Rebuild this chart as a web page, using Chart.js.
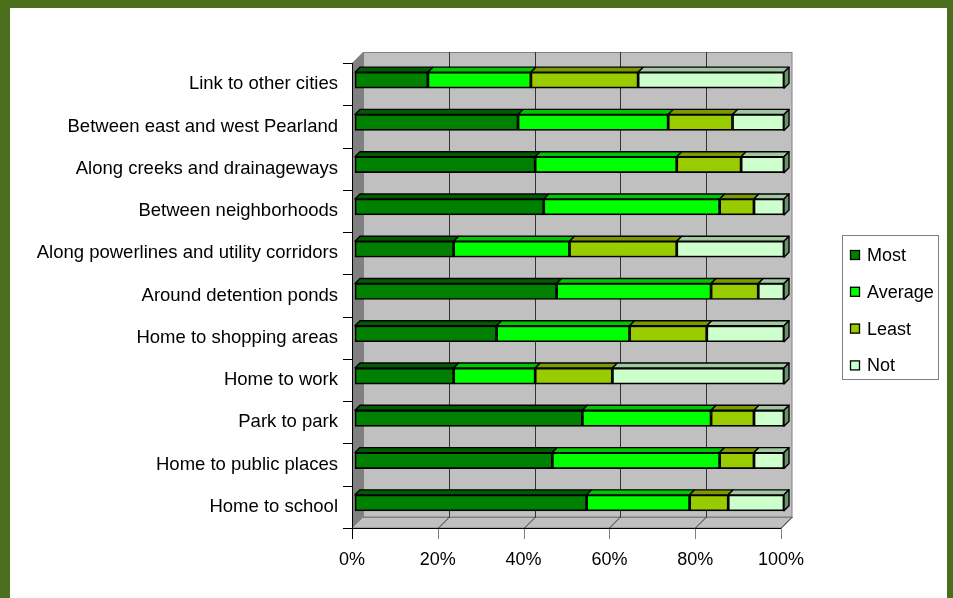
<!DOCTYPE html>
<html>
<head>
<meta charset="utf-8">
<script src="https://cdn.jsdelivr.net/npm/chart.js@4.4.1/dist/chart.umd.min.js"></script>
<style>
  html, body { margin: 0; padding: 0; background: #fff; overflow: hidden; }
  canvas { display: block; }
</style>
</head>
<body>
<canvas id="chart" width="953" height="598"></canvas>
<script>
// Trail connection preferences (percent of responses)
const categories = [
  'Link to other cities',
  'Between east and west Pearland',
  'Along creeks and drainageways',
  'Between neighborhoods',
  'Along powerlines and utility corridors',
  'Around detention ponds',
  'Home to shopping areas',
  'Home to work',
  'Park to park',
  'Home to public places',
  'Home to school'
];
const most    = [17, 38, 42, 44, 23, 47, 33, 23, 53, 46, 54];
const average = [24, 35, 33, 41, 27, 36, 31, 19, 30, 39, 24];
const least   = [25, 15, 15,  8, 25, 11, 18, 18, 10,  8,  9];
const notPref = [34, 12, 10,  7, 25,  6, 18, 40,  7,  7, 13];
const seriesNames = ['Most', 'Average', 'Least', 'Not'];
const tickValues = [0, 20, 40, 60, 80, 100];

const FILL = ['#008000', '#00ff00', '#99cc00', '#ccffcc'];
const TOP  = ['#005c00', '#00c800', '#7a9a00', '#a2c8a2'];
const SIDE = ['#004000', '#009000', '#5a7200', '#6e8f6e'];

const WALL_DEPTH = 11;        // depth of the 3D walls
const BAR_SHIFT = { x: 3, y: -4 };
const BAR_DEPTH = 5;

Chart.defaults.font.family = '"Liberation Sans", Arial, sans-serif';
Chart.defaults.color = '#000';

function poly(ctx, pts) {
  ctx.beginPath();
  ctx.moveTo(pts[0][0], pts[0][1]);
  for (let i = 1; i < pts.length; i++) ctx.lineTo(pts[i][0], pts[i][1]);
  ctx.closePath();
}

const frame3d = {
  id: 'frame3d',
  beforeDraw(chart) {
    const { ctx, width, height } = chart;
    ctx.save();
    ctx.fillStyle = '#4b6f1d';
    ctx.fillRect(0, 0, width, height);
    ctx.fillStyle = '#ffffff';
    ctx.fillRect(10, 8, 937, height - 8);
    ctx.restore();
  },
  beforeDatasetsDraw(chart) {
    const { ctx, chartArea: a, scales } = chart;
    const xs = scales.x, ys = scales.y;
    const d = WALL_DEPTH;
    ctx.save();
    // back wall
    ctx.fillStyle = '#c0c0c0';
    ctx.fillRect(a.left + d, a.top - d, a.right - a.left, a.bottom - a.top);
    // left wall
    ctx.fillStyle = '#808080';
    poly(ctx, [[a.left, a.top], [a.left + d, a.top - d], [a.left + d, a.bottom - d], [a.left, a.bottom]]);
    ctx.fill();
    // floor
    ctx.fillStyle = '#c0c0c0';
    poly(ctx, [[a.left, a.bottom], [a.left + d, a.bottom - d], [a.right + d, a.bottom - d], [a.right, a.bottom]]);
    ctx.fill();
    ctx.strokeStyle = '#808080';
    ctx.lineWidth = 1;
    ctx.stroke();
    // wall outline
    ctx.strokeRect(a.left + d + 0.5, a.top - d + 0.5, a.right - a.left - 0.5, a.bottom - a.top);
    // gridlines on the back wall and the floor
    ctx.strokeStyle = '#333333';
    tickValues.forEach(v => {
      const px = Math.round(xs.getPixelForValue(v)) + 0.5;
      if (v > 0 && v < 100) {
        ctx.beginPath();
        ctx.moveTo(px + d, a.top - d);
        ctx.lineTo(px + d, a.bottom - d);
        ctx.stroke();
      }
      if (v > 0) {
        ctx.beginPath();
        ctx.moveTo(px, a.bottom);
        ctx.lineTo(px + d, a.bottom - d);
        ctx.stroke();
      }
    });
    // x tick marks
    ctx.strokeStyle = '#808080';
    tickValues.forEach(v => {
      if (v === 0) return;
      const px = Math.round(xs.getPixelForValue(v)) + 0.5;
      ctx.beginPath();
      ctx.moveTo(px, a.bottom);
      ctx.lineTo(px, a.bottom + 11);
      ctx.stroke();
    });
    // axes
    ctx.strokeStyle = '#000';
    const lx = Math.round(a.left) + 0.5;
    const by = Math.round(a.bottom) + 0.5;
    ctx.beginPath();
    ctx.moveTo(lx, a.top);
    ctx.lineTo(lx, a.bottom + 11);
    ctx.moveTo(a.left - 9, by);
    ctx.lineTo(a.right, by);
    ctx.stroke();
    // category tick marks
    const n = categories.length;
    const band = (a.bottom - a.top) / n;
    for (let i = 0; i < n; i++) {
      const ty = Math.round(ys.getPixelForValue(i) - band / 2) + 0.5;
      ctx.beginPath();
      ctx.moveTo(a.left - 9, ty);
      ctx.lineTo(a.left, ty);
      ctx.stroke();
    }
    ctx.restore();
    // bars sit slightly behind the front plane
    ctx.save();
    ctx.translate(BAR_SHIFT.x, BAR_SHIFT.y);
  },
  afterDatasetsDraw(chart) {
    const ctx = chart.ctx;
    const bd = BAR_DEPTH;
    const nSets = chart.data.datasets.length;
    ctx.lineWidth = 1.4;
    ctx.strokeStyle = '#000';
    ctx.lineJoin = 'round';
    for (let di = 0; di < nSets; di++) {
      const meta = chart.getDatasetMeta(di);
      meta.data.forEach(el => {
        const p = el.getProps(['x', 'y', 'base', 'height'], true);
        const l = Math.min(p.x, p.base), r = Math.max(p.x, p.base);
        const t = p.y - p.height / 2;
        poly(ctx, [[l, t], [l + bd, t - bd], [r + bd, t - bd], [r, t]]);
        ctx.fillStyle = TOP[di];
        ctx.fill();
        ctx.stroke();
        if (di === nSets - 1) {
          const b = p.y + p.height / 2;
          poly(ctx, [[r, t], [r + bd, t - bd], [r + bd, b - bd], [r, b]]);
          ctx.fillStyle = SIDE[di];
          ctx.fill();
          ctx.stroke();
        }
      });
    }
    ctx.restore();
  },
  afterDraw(chart) {
    const ctx = chart.ctx;
    ctx.save();
    // legend box
    ctx.fillStyle = '#fff';
    ctx.fillRect(842, 235, 97, 145);
    ctx.strokeStyle = '#808080';
    ctx.lineWidth = 1;
    ctx.strokeRect(842.5, 235.5, 96, 144);
    ctx.font = '18px "Liberation Sans", Arial, sans-serif';
    ctx.textBaseline = 'middle';
    ctx.textAlign = 'left';
    chart.data.datasets.forEach((ds, i) => {
      const cy = 255 + i * 36.8;
      ctx.fillStyle = ds.backgroundColor;
      ctx.fillRect(850, cy - 5, 10, 10);
      ctx.strokeStyle = '#000';
      ctx.lineWidth = 1.3;
      ctx.strokeRect(850.5, cy - 4.5, 9, 9);
      ctx.fillStyle = '#000';
      ctx.fillText(ds.label, 867, cy + 1);
    });
    ctx.restore();
  }
};

const seriesData = [most, average, least, notPref];

new Chart(document.getElementById('chart'), {
  type: 'bar',
  data: {
    labels: categories,
    datasets: seriesData.map((vals, i) => ({
      label: seriesNames[i],
      data: vals,
      backgroundColor: FILL[i],
      borderColor: '#000',
      borderWidth: 1.7,
      borderSkipped: false,
      barThickness: 16,
      clip: false
    }))
  },
  options: {
    indexAxis: 'y',
    responsive: false,
    animation: false,
    devicePixelRatio: 1,
    layout: { padding: { left: 0, right: 172, top: 63, bottom: 0 } },
    plugins: { legend: { display: false }, tooltip: { enabled: false } },
    scales: {
      x: {
        stacked: true,
        min: 0,
        max: 100,
        grid: { display: false },
        border: { display: false },
        ticks: {
          stepSize: 20,
          autoSkip: false,
          maxRotation: 0,
          padding: 13,
          color: '#000',
          font: { size: 18 },
          callback: v => v + '%'
        },
        afterFit(s) { s.height = 70; }
      },
      y: {
        stacked: true,
        grid: { display: false },
        border: { display: false },
        ticks: { padding: 6, color: '#000', font: { size: 18.5 } },
        afterFit(s) { s.width = 352; }
      }
    }
  },
  plugins: [frame3d]
});
</script>
</body>
</html>
